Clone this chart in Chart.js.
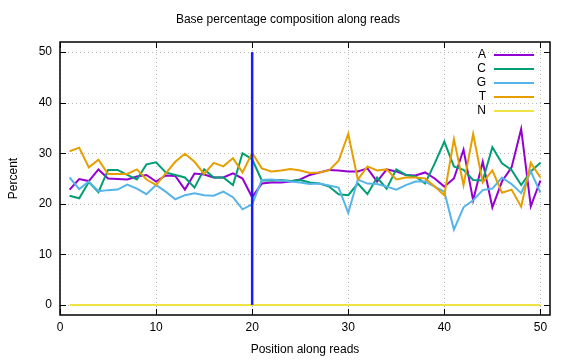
<!DOCTYPE html>
<html><head><meta charset="utf-8">
<script src="https://cdn.jsdelivr.net/npm/chart.js@4"></script>
<style>html,body{margin:0;padding:0;background:#fff}#wrap{width:576px;height:360px}</style>
</head><body><div id="wrap"><canvas id="c" width="576" height="360"></canvas></div>
<script>
const positions = [1,2,3,4,5,6,7,8,9,10,11,12,13,14,15,16,17,18,19,20,21,22,23,24,25,26,27,28,29,30,31,32,33,34,35,36,37,38,39,40,41,42,43,44,45,46,47,48,49,50];
const seriesA = [22.8,24.9,24.5,26.8,25.0,24.9,24.8,25.4,25.7,24.4,25.6,25.5,22.8,26.0,25.8,25.2,25.2,26.0,25.0,21.3,24.0,24.2,24.2,24.4,24.8,25.7,26.2,26.7,26.6,26.4,26.4,27.0,24.4,26.8,26.4,25.7,25.6,26.2,25.0,23.4,25.0,30.7,20.7,28.3,19.3,24.4,27.2,34.8,19.5,24.6];
const seriesC = [21.6,21.1,24.3,22.3,26.7,26.7,25.7,24.8,27.8,28.2,26.2,25.7,25.2,23.2,26.8,25.2,25.2,23.7,30.0,28.8,24.6,24.6,24.7,24.5,24.7,24.2,24.0,23.4,21.9,21.7,24.0,21.9,25.2,23.0,26.8,25.7,25.4,24.0,28.0,32.3,27.4,26.7,24.7,24.6,31.2,28.0,26.7,23.7,26.4,28.1];
const seriesG = [25.2,22.9,24.4,22.5,22.7,22.8,23.8,23.0,21.9,23.7,22.4,20.9,21.7,22.1,21.7,21.6,22.4,21.3,18.9,19.9,24.7,24.8,24.6,24.4,24.2,23.9,24.0,23.6,23.2,18.2,24.8,24.0,23.9,23.4,22.8,23.7,24.4,24.4,23.4,22.4,14.9,19.3,20.7,22.7,23.0,25.2,23.9,22.1,26.4,22.2];
const seriesT = [30.4,31.1,27.2,28.7,25.9,25.9,25.9,26.8,24.8,23.7,26.0,28.3,29.9,28.3,25.9,28.1,27.4,29.0,26.2,30.1,27.0,26.4,26.6,26.9,26.6,26.1,26.2,26.6,28.5,33.8,24.8,27.4,26.6,26.8,24.8,25.2,25.2,25.0,23.4,21.7,32.8,23.7,33.8,24.2,26.6,22.2,22.8,19.4,28.1,25.2];
const seriesN = [0,0,0,0,0,0,0,0,0,0,0,0,0,0,0,0,0,0,0,0,0,0,0,0,0,0,0,0,0,0,0,0,0,0,0,0,0,0,0,0,0,0,0,0,0,0,0,0,0,0];
const seriesLabels = ['A','C','G','T','N'];
const xTicks = [0,10,20,30,40,50];
const yTicks = [0,10,20,30,40,50];
const markerX = 20;
const markerY = [0, 50];
const titleText = 'Base percentage composition along reads';
const xTitle = 'Position along reads';
const yTitle = 'Percent';

const FONT = 'Liberation Sans, Arial, sans-serif';
const colors = ['#9400d3','#009e73','#56b4e9','#e69f00','#f0e442'];
const allSeries = [seriesA, seriesC, seriesG, seriesT, seriesN];
const orders = [5,4,3,2,1];

const datasets = allSeries.map((s, k) => ({
  label: seriesLabels[k],
  data: positions.map((x, i) => ({x: x, y: s[i]})),
  borderColor: colors[k],
  backgroundColor: colors[k],
  borderWidth: 2,
  pointRadius: 0,
  tension: 0,
  fill: false,
  order: orders[k]
}));
datasets.push({
  label: '',
  data: [{x: markerX, y: markerY[0]}, {x: markerX, y: markerY[1]}],
  borderColor: '#1a1aff',
  borderWidth: 2.5,
  pointRadius: 0,
  fill: false,
  order: 0
});

const decor = {
  id: 'decor',
  beforeDatasetsDraw(chart) {
    const {ctx, chartArea: a, scales: {x, y}} = chart;
    ctx.save();
    ctx.strokeStyle = '#b8b8b8';
    ctx.lineWidth = 1;
    ctx.setLineDash([1, 3]);
    xTicks.forEach(v => {
      const px = Math.round(x.getPixelForValue(v)) + 0.5;
      ctx.beginPath(); ctx.moveTo(px, a.top); ctx.lineTo(px, a.bottom); ctx.stroke();
    });
    yTicks.forEach(v => {
      const py = Math.round(y.getPixelForValue(v)) + 0.5;
      ctx.beginPath(); ctx.moveTo(a.left, py); ctx.lineTo(a.right, py); ctx.stroke();
    });
    ctx.restore();
  },
  afterDatasetsDraw(chart) {
    const {ctx, chartArea: a, scales: {x, y}} = chart;
    ctx.save();
    ctx.strokeStyle = '#000';
    ctx.lineWidth = 1.5;
    ctx.setLineDash([]);
    ctx.strokeRect(a.left, a.top, a.right - a.left, a.bottom - a.top);
    ctx.lineWidth = 1;
    const tl = 6;
    xTicks.forEach(v => {
      const px = Math.round(x.getPixelForValue(v)) + 0.5;
      ctx.beginPath();
      ctx.moveTo(px, a.bottom); ctx.lineTo(px, a.bottom - tl);
      ctx.moveTo(px, a.top); ctx.lineTo(px, a.top + tl);
      ctx.stroke();
    });
    yTicks.forEach(v => {
      const py = Math.round(y.getPixelForValue(v)) + 0.5;
      ctx.beginPath();
      ctx.moveTo(a.left, py); ctx.lineTo(a.left + tl, py);
      ctx.moveTo(a.right, py); ctx.lineTo(a.right - tl, py);
      ctx.stroke();
    });
    // legend
    ctx.font = '12px ' + FONT;
    ctx.fillStyle = '#000';
    ctx.textAlign = 'right';
    ctx.textBaseline = 'middle';
    seriesLabels.forEach((lab, k) => {
      const ly = a.top + 13 + k * 14;
      ctx.fillText(lab, 486, ly);
      ctx.strokeStyle = colors[k];
      ctx.lineWidth = 2;
      ctx.beginPath(); ctx.moveTo(494, ly); ctx.lineTo(534, ly); ctx.stroke();
    });
    ctx.restore();
  }
};

new Chart(document.getElementById('c'), {
  type: 'line',
  data: {datasets},
  options: {
    responsive: false,
    animation: false,
    devicePixelRatio: 1,
    layout: {padding: {left: 0, right: 0, top: 0, bottom: 0}},
    plugins: {
      legend: {display: false},
      tooltip: {enabled: false},
      title: {display: true, text: titleText, color: '#000', font: {family: FONT, size: 12, weight: 'normal'}, padding: {top: 12.8, bottom: 14.8}}
    },
    scales: {
      x: {
        type: 'linear', min: 0, max: 51,
        afterBuildTicks: s => { s.ticks = xTicks.map(v => ({value: v})); },
        afterFit: s => { s.height = 45; s.paddingLeft = 0; s.paddingRight = 0; },
        grid: {display: false, drawTicks: false},
        border: {display: false},
        ticks: {color: '#000', font: {family: FONT, size: 12}, padding: 5, maxRotation: 0, autoSkip: false},
        title: {display: true, text: xTitle, color: '#000', font: {family: FONT, size: 12}, padding: {top: 0, bottom: 2.8}}
      },
      y: {
        type: 'linear', min: -2, max: 52,
        afterBuildTicks: s => { s.ticks = yTicks.map(v => ({value: v})); },
        afterFit: s => { s.width = 60; s.paddingTop = 0; s.paddingBottom = 0; },
        grid: {display: false, drawTicks: false},
        border: {display: false},
        ticks: {color: '#000', font: {family: FONT, size: 12}, padding: 8, autoSkip: false},
        title: {display: true, text: yTitle, color: '#000', font: {family: FONT, size: 12}, padding: {top: 6.8, bottom: 0}}
      },
      yRight: {
        type: 'linear', position: 'right', min: -2, max: 52,
        afterFit: s => { s.width = 26; s.paddingTop = 0; s.paddingBottom = 0; },
        grid: {display: false, drawTicks: false},
        border: {display: false},
        ticks: {display: false}
      }
    }
  },
  plugins: [decor]
});
</script>
</body></html>
